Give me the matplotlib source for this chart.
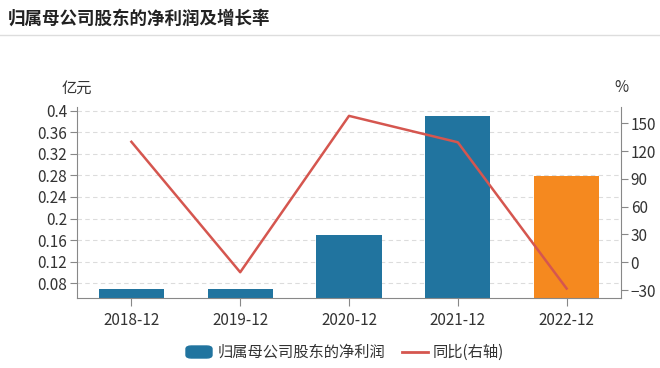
import matplotlib
matplotlib.use("Agg")
import matplotlib.pyplot as plt
from matplotlib.lines import Line2D
from matplotlib.patches import FancyBboxPatch

plt.rcParams['font.family'] = ['Noto Sans CJK SC', 'DejaVu Sans']

# 数据
categories = ["2018-12", "2019-12", "2020-12", "2021-12", "2022-12"]
net_profit = [0.069, 0.069, 0.170, 0.390, 0.279]   # 亿元
yoy_growth = [130.0, -10.8, 158.0, 129.5, -28.4]   # %
left_ticks = [0.08, 0.12, 0.16, 0.2, 0.24, 0.28, 0.32, 0.36, 0.4]
right_ticks = [-30, 0, 30, 60, 90, 120, 150]

BLUE = "#21749f"
ORANGE = "#f5891f"
RED = "#d5564f"
AXIS = "#888888"
TEXT = "#333333"

fig = plt.figure(figsize=(6.6, 3.68), dpi=100)
fig.patch.set_facecolor("white")

# 标题与分隔线
fig.text(8 / 660, 1 - 19 / 368, "归属母公司股东的净利润及增长率", fontsize=12.6,
         fontweight="bold", color="#222222", va="center", ha="left")
fig.add_artist(Line2D([0, 1], [1 - 35 / 368] * 2, color="#dddddd", lw=1))

ax = fig.add_axes([77 / 660, (368 - 297.7) / 368, 544 / 660, 191 / 368])
x = list(range(len(categories)))
colors = [BLUE] * (len(categories) - 1) + [ORANGE]
ax.bar(x, net_profit, width=0.6, color=colors, zorder=2)
ax.set_xlim(-0.5, len(categories) - 0.5)
ax.set_ylim(0.0533, 0.4074)
ax.set_yticks(left_ticks)
ax.set_yticklabels([f"{v:g}" for v in left_ticks])
ax.set_xticks(x)
ax.set_xticklabels(categories)
ax.yaxis.grid(True, ls=(0, (4, 3)), color="#dcdcdc", lw=0.8, zorder=0)
ax.set_axisbelow(True)
for s in ["top", "right"]:
    ax.spines[s].set_visible(False)
for s in ["left", "bottom"]:
    ax.spines[s].set_color(AXIS)
ax.tick_params(axis="both", colors=AXIS, labelcolor=TEXT, labelsize=11, length=5, pad=2)
ax.tick_params(axis="x", length=6, pad=4)

ax2 = ax.twinx()
ax2.plot(x, yoy_growth, color=RED, lw=1.8, zorder=3)
ax2.set_ylim(-38.3, 167.9)
ax2.set_yticks(right_ticks)
for s in ["top", "left", "bottom"]:
    ax2.spines[s].set_visible(False)
ax2.spines["right"].set_color(AXIS)
ax2.tick_params(axis="y", colors=AXIS, labelcolor=TEXT, labelsize=11, length=5, pad=2)

# 单位
fig.text(77 / 660, 1 - 88 / 368, "亿元", fontsize=11, color=TEXT, ha="center", va="center")
fig.text(621 / 660, 1 - 88 / 368, "%", fontsize=11, color=TEXT, ha="center", va="center")

# 图例
ly = 1 - 352 / 368
fig.add_artist(FancyBboxPatch((186 / 660, ly - 6 / 368), 26 / 660, 12 / 368,
                              boxstyle="round,pad=0,rounding_size=0.008",
                              transform=fig.transFigure, color=BLUE))
fig.text(218 / 660, ly, "归属母公司股东的净利润", fontsize=11, color=TEXT, va="center")
fig.add_artist(Line2D([402 / 660, 428 / 660], [ly, ly], color=RED, lw=2))
fig.text(433 / 660, ly, "同比(右轴)", fontsize=11, color=TEXT, va="center")

fig.savefig("out.png", dpi=100)
